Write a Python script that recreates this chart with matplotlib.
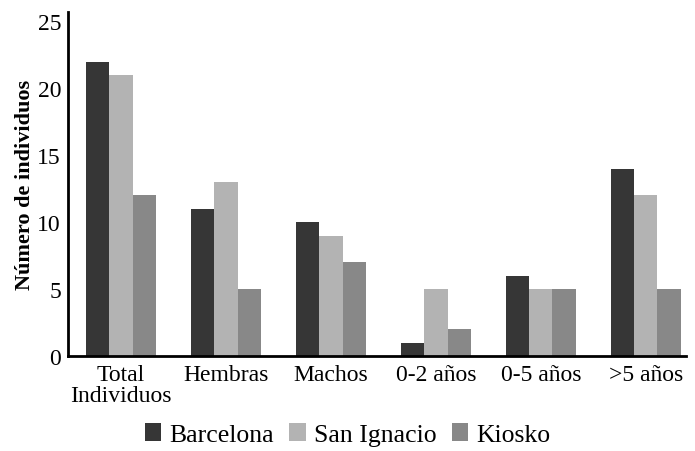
import matplotlib
matplotlib.use("Agg")
import matplotlib.pyplot as plt
import numpy as np

categories = ["Total\nIndividuos", "Hembras", "Machos", "0-2 años", "0-5 años", ">5 años"]
series_names = ["Barcelona", "San Ignacio", "Kiosko"]
barcelona = [22, 11, 10, 1, 6, 14]
san_ignacio = [21, 13, 9, 5, 5, 12]
kiosko = [12, 5, 7, 2, 5, 5]
colors = ["#363636", "#b3b3b3", "#888888"]

plt.rcParams['font.family'] = ['Liberation Serif', 'DejaVu Serif']

fig = plt.figure(figsize=(6.95, 4.52), dpi=100)
ax = fig.add_axes([0.0978, 0.21, 0.889, 0.761])

x = np.arange(len(categories))
w = 0.22
for i, (vals, name, c) in enumerate(zip([barcelona, san_ignacio, kiosko], series_names, colors)):
    ax.bar(x + (i - 1) * w, vals, width=w, color=c, label=name)

ax.set_xlim(-0.505, 5.38)
ax.set_ylim(0, 25.7)
ax.set_yticks([0, 5, 10, 15, 20, 25])
ax.set_xticks(x)
ax.set_xticklabels(categories, fontsize=17, linespacing=0.95)
ax.tick_params(axis='both', length=0, labelsize=17)
ax.tick_params(axis='x', pad=6)
ax.tick_params(axis='y', pad=5)
for s in ['top', 'right']:
    ax.spines[s].set_visible(False)
for s in ['left', 'bottom']:
    ax.spines[s].set_linewidth(2)
    ax.spines[s].set_color('black')

ax.set_ylabel("Número de individuos", fontsize=16, fontweight='bold', labelpad=2)

fig.legend(loc='lower center', bbox_to_anchor=(0.5, -0.04), ncol=3, frameon=False,
           fontsize=18.5, handlelength=0.65, handleheight=0.65, handletextpad=0.3,
           columnspacing=0.6)

fig.savefig("out.png", dpi=100)
